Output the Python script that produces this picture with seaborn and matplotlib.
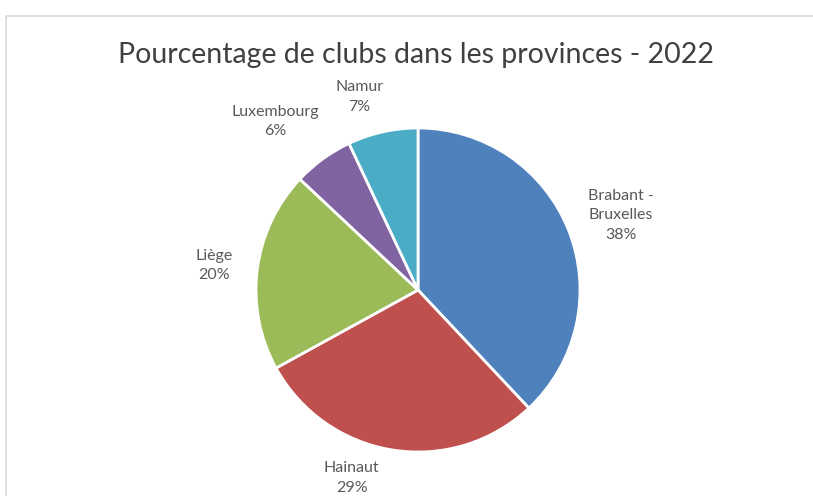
import matplotlib
matplotlib.use("Agg")
import matplotlib.pyplot as plt
import matplotlib.patches as mpatches
import seaborn as sns

# ---- data ----
provinces = ["Brabant -\nBruxelles", "Hainaut", "Liège", "Luxembourg", "Namur"]
shares = [38, 29, 20, 6, 7]
colors = ["#4F81BD", "#C0504D", "#9BBB59", "#8064A2", "#4BACC6"]

# label placement, in pie-radius units (Excel "best fit" style)
label_pos = [(1.25, 0.46), (-0.41, -1.16), (-1.26, 0.15), (-0.88, 1.04), (-0.36, 1.19)]

sns.set_theme(style="white")
plt.rcParams['font.family'] = ['Lato', 'DejaVu Sans']

fig = plt.figure(figsize=(8.13, 4.96), dpi=100)
fig.patch.set_facecolor("white")

# pie centred at (418, 290) px, radius 162 px
ax = fig.add_axes([175 / 813, -37 / 496, 486 / 813, 486 / 496])
ax.pie(shares, colors=colors, startangle=90, counterclock=False, radius=1,
       wedgeprops={"edgecolor": "white", "linewidth": 2})
ax.set_xlim(-1.5, 1.5)
ax.set_ylim(-1.5, 1.5)
ax.set_aspect("equal")
ax.axis("off")

for name, val, (x, y) in zip(provinces, shares, label_pos):
    ax.text(x, y, f"{name}\n{val}%", ha="center", va="center",
            fontsize=11.5, color="#595959", linespacing=1.5)

fig.text(416 / 813, 1 - 55 / 496, "Pourcentage de clubs dans les provinces - 2022",
         ha="center", va="center", fontsize=20.5, color="#404040")

# chart-area border
fig.add_artist(mpatches.Rectangle((6 / 813, -0.1), 1.0, (496 - 16) / 496 + 0.1,
                                  transform=fig.transFigure, fill=False,
                                  edgecolor="#d9d9d9", linewidth=1.2))

fig.savefig("out.png", dpi=100)
